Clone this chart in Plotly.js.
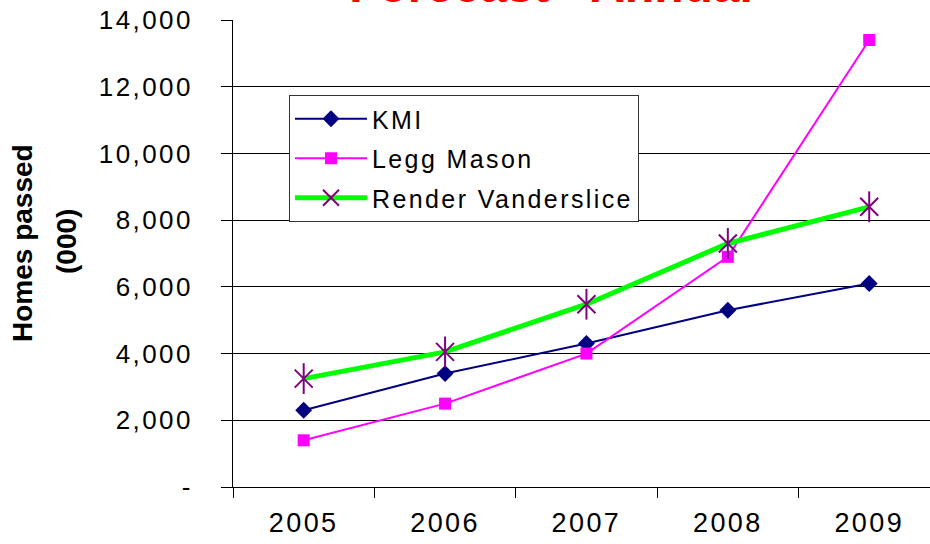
<!DOCTYPE html>
<html>
<head>
<meta charset="utf-8">
<script src="https://cdn.plot.ly/plotly-3.0.1.min.js"></script>
<style>
  html, body { margin: 0; padding: 0; background: #fff; }
  #chart { width: 930px; height: 544px; }
  .xtick text, .ytick text, .legendtext { letter-spacing: 2.4px; }
</style>
</head>
<body>
<div id="chart"></div>
<script>
const years = ['2005', '2006', '2007', '2008', '2009'];
const kmi = [2300, 3400, 4300, 5300, 6100];
const leggMason = [1400, 2500, 4000, 6900, 13400];
const renderVanderslice = [3250, 4050, 5480, 7300, 8400];
const yTickVals = [0, 2000, 4000, 6000, 8000, 10000, 12000, 14000];
const yTickText = ['-', '2,000', '4,000', '6,000', '8,000', '10,000', '12,000', '14,000'];

const FONT = 'Arial, "Liberation Sans", sans-serif';

const traces = [
  {
    x: years, y: kmi, name: 'KMI', type: 'scatter', mode: 'lines+markers',
    legendgroup: 'a',
    line: { color: '#000080', width: 2 },
    marker: { symbol: 'diamond', size: 13, color: '#000080' }
  },
  {
    x: years, y: leggMason, name: 'Legg Mason', type: 'scatter', mode: 'lines+markers',
    legendgroup: 'b',
    line: { color: '#FF00FF', width: 2 },
    marker: { symbol: 'square', size: 12, color: '#FF00FF' }
  },
  {
    x: years, y: renderVanderslice, name: 'Render Vanderslice', type: 'scatter', mode: 'lines+markers',
    legendgroup: 'c',
    line: { color: '#00FF00', width: 5 },
    marker: { symbol: 'x-thin-open', size: 18, color: '#800080', line: { color: '#800080', width: 2 } }
  },
  {
    x: years, y: renderVanderslice, name: 'Render Vanderslice', type: 'scatter', mode: 'markers',
    legendgroup: 'c', showlegend: false, hoverinfo: 'skip',
    marker: { symbol: 'line-ns-open', size: 22, color: '#800080', line: { color: '#800080', width: 2 } }
  }
];

const layout = {
  width: 930, height: 544,
  margin: { l: 233, r: 0, t: 20, b: 57 },
  paper_bgcolor: '#ffffff', plot_bgcolor: '#ffffff',
  font: { family: FONT, color: '#000000' },
  title: {
    text: 'Forecast - Annual',
    font: { family: FONT, size: 48, color: '#FF0000', weight: 'bold' },
    x: 551 / 930, xanchor: 'center', xref: 'container',
    y: 1 - 1.5 / 544, yanchor: 'bottom', yref: 'container'
  },
  xaxis: {
    type: 'category', range: [-0.5, 4.43],
    showgrid: false, zeroline: false,
    showline: true, linecolor: '#000000', linewidth: 1,
    ticks: 'outside', tickson: 'boundaries', ticklen: 10, tickcolor: '#000000', tickwidth: 1,
    tickfont: { family: FONT, size: 27, color: '#000000' },
    ticklabelstandoff: 12
  },
  yaxis: {
    range: [0, 14000],
    tickvals: yTickVals, ticktext: yTickText,
    showgrid: true, gridcolor: '#000000', gridwidth: 1,
    zeroline: false,
    showline: true, linecolor: '#000000', linewidth: 1,
    ticks: 'outside', ticklen: 11, tickcolor: '#000000', tickwidth: 1,
    tickfont: { family: FONT, size: 26, color: '#000000' },
    ticklabelstandoff: 23
  },
  legend: {
    x: (289 - 233) / 697, y: 1 - (95 - 20) / 467, xanchor: 'left', yanchor: 'top',
    bgcolor: '#ffffff', bordercolor: '#333333', borderwidth: 1,
    font: { family: FONT, size: 25, color: '#000000' },
    itemwidth: 72,
    traceorder: 'grouped', tracegroupgap: 4
  },
  showlegend: true,
  annotations: [
    {
      text: 'Homes passed', textangle: -90, showarrow: false,
      xref: 'paper', yref: 'paper',
      x: (22 - 233) / 697, y: 1 - (243 - 20) / 467,
      xanchor: 'center', yanchor: 'middle',
      font: { family: FONT, size: 28, color: '#000000', weight: 'bold' }
    },
    {
      text: '(000)', textangle: -90, showarrow: false,
      xref: 'paper', yref: 'paper',
      x: (66 - 233) / 697, y: 1 - (242 - 20) / 467,
      xanchor: 'center', yanchor: 'middle',
      font: { family: FONT, size: 28, color: '#000000', weight: 'bold' }
    }
  ]
};

Plotly.newPlot('chart', traces, layout, { displayModeBar: false, staticPlot: true });
</script>
</body>
</html>
